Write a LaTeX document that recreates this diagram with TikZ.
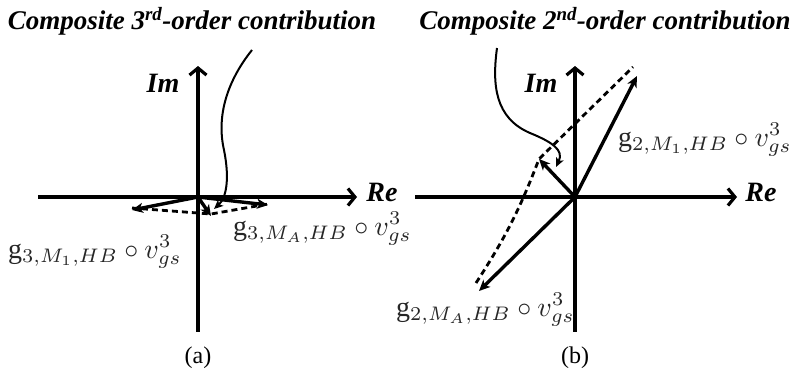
\documentclass[tikz,border=0pt]{standalone}
\usepackage{graphicx}
\usepackage{fontspec}
\setmainfont{Liberation Serif}
\usetikzlibrary{arrows.meta}
\newcommand{\biglabel}[1]{\scalebox{2.8}{$#1$}}

\begin{document}
\begin{tikzpicture}[
  x=1pt, y=-1pt,
  axis/.style={line width=3.6pt, -{Straight Barb[length=7pt,width=17pt,line width=3.2pt]}},
  vec/.style={line width=3.4pt, -{Stealth[length=11pt,width=10pt,inset=3pt]}},
  resline/.style={line width=2.8pt, dash pattern=on 6pt off 4pt},
  pointer/.style={line width=2pt, -{Stealth[length=9pt,width=8pt,inset=2pt]}},
  title/.style={font=\fontsize{27}{30}\selectfont\bfseries\itshape, inner sep=0pt},
  axlabel/.style={font=\fontsize{28}{30}\selectfont\bfseries\itshape, inner sep=0pt},
  vlabel/.style={inner sep=0pt, anchor=base west, text=black!85},
  caption/.style={font=\fontsize{24}{27}\selectfont, inner sep=0pt}
]
\useasboundingbox (0,0) rectangle (797,375);

% (a) third order
\coordinate (Oa) at (198,197);
\coordinate (reA) at (357,197);
\coordinate (reAstart) at (38,197);
\coordinate (imA) at (198,66);
\coordinate (imAend) at (198,332);
\coordinate (m1A) at (132,210);
\coordinate (mAA) at (268,205);
\coordinate (resA) at (211,216);
\coordinate (ptrA) at (252,50);

\node[title] (titleA) at (192,21) {Composite 3\textsuperscript{rd}-order contribution};
\draw[line width=3.6pt] (Oa) -- (imAend);
\draw[axis] (reAstart) -- (reA);
\draw[axis] (Oa) -- (imA);
\node[axlabel] (ImA) at (163,83) {Im};
\node[axlabel] (ReA) at (382,192) {Re};
\draw[resline] ([yshift=2pt]m1A) -- ([yshift=2pt]resA) -- ([yshift=1pt]mAA);
\draw[vec] (Oa) -- (m1A);
\draw[vec] (Oa) -- (mAA);
\draw[vec] (Oa) -- (resA);
\draw[pointer] (ptrA) .. controls (228,80) and (216,115) .. (224,150)
  .. controls (230,180) and (226,198) .. (214,209);
\node[vlabel] (labM1A) at (8,258) {\biglabel{\mathrm{g}_{3,M_1,HB}\circ v_{gs}^3}};
\node[vlabel] (labMAA) at (233,235) {\biglabel{\mathrm{g}_{3,M_A,HB}\circ v_{gs}^3}};
\node[caption] (capA) at (198,358) {(a)};

% (b) second order
\coordinate (Ob) at (575,197);
\coordinate (reB) at (737,197);
\coordinate (reBstart) at (415,197);
\coordinate (imB) at (575,66);
\coordinate (imBend) at (575,332);
\coordinate (m1B) at (637,76);
\coordinate (mAB) at (479,291);
\coordinate (resB) at (539,159);
\coordinate (ptrB) at (497,48);

\node[title] (titleB) at (605,21) {Composite 2\textsuperscript{nd}-order contribution};
\draw[line width=3.6pt] (Ob) -- (imBend);
\draw[axis] (reBstart) -- (reB);
\draw[axis] (Ob) -- (imB);
\node[axlabel] (ImB) at (541,83) {Im};
\node[axlabel] (ReB) at (761,192) {Re};
\draw[resline] ([xshift=-3pt,yshift=8pt]mAB) to[bend right=6] (resB) -- ([xshift=-4pt,yshift=9pt]m1B);
\draw[vec] (Ob) -- (m1B);
\draw[vec] (Ob) -- (mAB);
\draw[vec] (Ob) -- (resB);
\draw[pointer] (ptrB) .. controls (492,85) and (495,118) .. (530,133)
  .. controls (552,142) and (564,150) .. (556,167);
\node[vlabel] (labM1B) at (618,146) {\biglabel{\mathrm{g}_{2,M_1,HB}\circ v_{gs}^3}};
\node[vlabel] (labMAB) at (396,316) {\biglabel{\mathrm{g}_{2,M_A,HB}\circ v_{gs}^3}};
\node[caption] (capB) at (575,358) {(b)};
\end{tikzpicture}
\end{document}
